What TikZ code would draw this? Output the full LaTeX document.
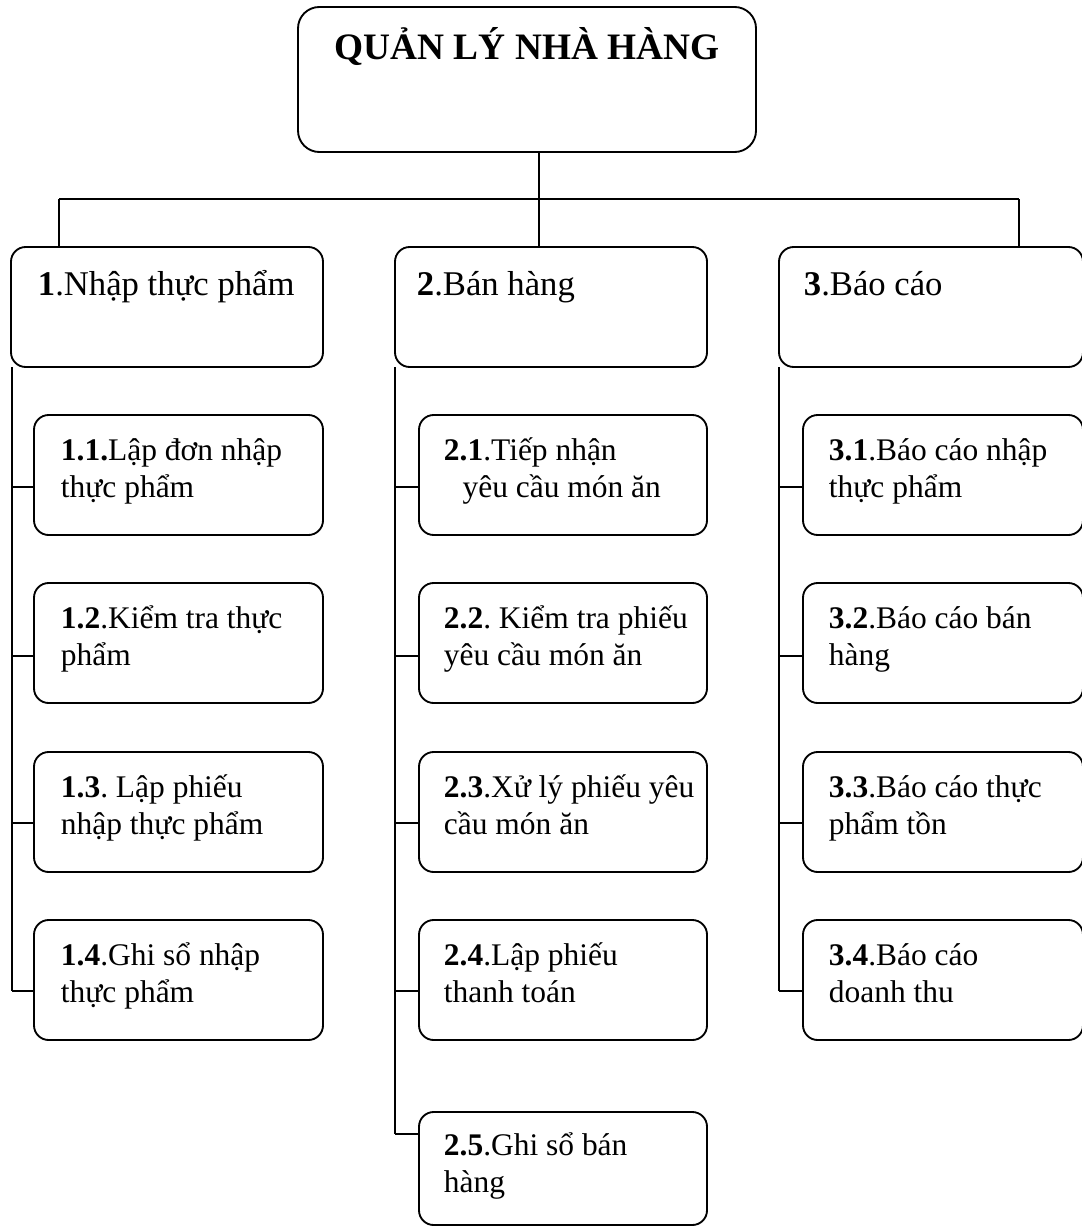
\documentclass[tikz,border=0pt]{standalone}
\usepackage{fontspec}
\setmainfont{Liberation Serif}
\usetikzlibrary{fit,calc}
\begin{document}
\frenchspacing
\begin{tikzpicture}[x=0.75pt,y=-0.75pt,
  line width=1.4pt,
  box/.style={draw, rounded corners=11pt, inner sep=0pt},
  topbox/.style={draw, rounded corners=16pt, inner sep=0pt},
  txt/.style={anchor=base west, inner sep=0pt, align=flush left, text width=260pt,
              font=\fontsize{23.6}{27.75}\selectfont},
  headtxt/.style={txt, font=\fontsize{26}{30}\selectfont},
  ttl/.style={anchor=base, inner sep=0pt, font=\fontsize{28}{33}\selectfont\bfseries}]
\useasboundingbox (0,0) rectangle (1081,1227);

% root
\node[topbox, fit={(298,7)(756,152)}] (root) {};
\node[ttl] (rootT) at (527,60) {QUẢN LÝ NHÀ HÀNG};

% first level
\node[box, fit={(11,247)(323,367)}]  (n1) {};
\node[box, fit={(395,247)(707,367)}] (n2) {};
\node[box, fit={(779,247)(1083,367)}] (n3) {};
\node[headtxt] (n1T) at (37,295)  {\textbf{1}.Nhập thực phẩm};
\node[headtxt] (n2T) at (416,295) {\textbf{2}.Bán hàng};
\node[headtxt] (n3T) at (803,295) {\textbf{3}.Báo cáo};

% column 1
\node[box, fit={(34,415)(323,535)}] (c11) {};
\node[box, fit={(34,583)(323,703)}] (c12) {};
\node[box, fit={(34,752)(323,872)}] (c13) {};
\node[box, fit={(34,920)(323,1040)}] (c14) {};
\node[txt] (c11T) at (60,460) {\textbf{1.1.}Lập đơn nhập\\thực phẩm};
\node[txt] (c12T) at (60,628) {\textbf{1.2}.Kiểm tra thực\\phẩm};
\node[txt] (c13T) at (60,797) {\textbf{1.3}. Lập phiếu\\nhập thực phẩm};
\node[txt] (c14T) at (60,965) {\textbf{1.4}.Ghi sổ nhập\\thực phẩm};

% column 2
\node[box, fit={(419,415)(707,535)}]   (c21) {};
\node[box, fit={(419,583)(707,703)}]   (c22) {};
\node[box, fit={(419,752)(707,872)}]   (c23) {};
\node[box, fit={(419,920)(707,1040)}]  (c24) {};
\node[box, fit={(419,1112)(707,1225)}] (c25) {};
\node[txt] (c21T) at (443,460)  {\textbf{2.1}.Tiếp nhận\\\hspace*{14pt}yêu cầu món ăn};
\node[txt] (c22T) at (443,628)  {\textbf{2.2}. Kiểm tra phiếu\\yêu cầu món ăn};
\node[txt] (c23T) at (443,797)  {\textbf{2.3}.Xử lý phiếu yêu\\cầu món ăn};
\node[txt] (c24T) at (443,965)  {\textbf{2.4}.Lập phiếu\\thanh toán};
\node[txt] (c25T) at (443,1155) {\textbf{2.5}.Ghi sổ bán\\hàng};

% column 3
\node[box, fit={(803,415)(1083,535)}]  (c31) {};
\node[box, fit={(803,583)(1083,703)}]  (c32) {};
\node[box, fit={(803,752)(1083,872)}]  (c33) {};
\node[box, fit={(803,920)(1083,1040)}] (c34) {};
\node[txt] (c31T) at (828,460) {\textbf{3.1}.Báo cáo nhập\\thực phẩm};
\node[txt] (c32T) at (828,628) {\textbf{3.2}.Báo cáo bán\\hàng};
\node[txt] (c33T) at (828,797) {\textbf{3.3}.Báo cáo thực\\phẩm tồn};
\node[txt] (c34T) at (828,965) {\textbf{3.4}.Báo cáo\\doanh thu};

% bus from the root to the three branches
\coordinate (j1) at (59,199);
\coordinate (j2) at (539,199);
\coordinate (j3) at (1019,199);
\draw (root.south -| j2) -- (j2);
\draw (j1) -- (j3);
\draw (j1) -- (j1 |- n1.north);
\draw (j2) -- (j2 |- n2.north);
\draw (j3) -- (j3 |- n3.north);

% spines down the left side of each column
\coordinate (s1) at (12,367);
\coordinate (s2) at (395,367);
\coordinate (s3) at (779,367);
\draw (s1) -- (s1 |- 0,991);
\draw (s2) -- (s2 |- 0,1134);
\draw (s3) -- (s3 |- 0,991);

% ticks from the spines to the sub-boxes
\draw (s1 |- 0,487) -- (c11.west |- 0,487);
\draw (s1 |- 0,656) -- (c12.west |- 0,656);
\draw (s1 |- 0,823) -- (c13.west |- 0,823);
\draw (s1 |- 0,991) -- (c14.west |- 0,991);

\draw (s2 |- 0,487)  -- (c21.west |- 0,487);
\draw (s2 |- 0,656)  -- (c22.west |- 0,656);
\draw (s2 |- 0,823)  -- (c23.west |- 0,823);
\draw (s2 |- 0,991)  -- (c24.west |- 0,991);
\draw (s2 |- 0,1134) -- (c25.west |- 0,1134);

\draw (s3 |- 0,487) -- (c31.west |- 0,487);
\draw (s3 |- 0,656) -- (c32.west |- 0,656);
\draw (s3 |- 0,823) -- (c33.west |- 0,823);
\draw (s3 |- 0,991) -- (c34.west |- 0,991);
\end{tikzpicture}
\end{document}
